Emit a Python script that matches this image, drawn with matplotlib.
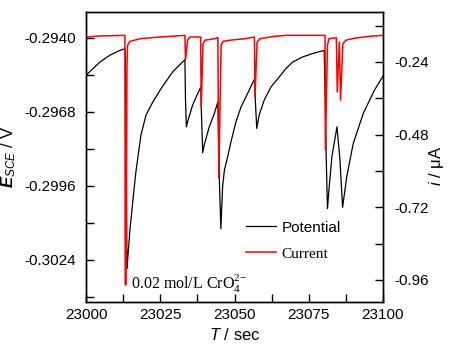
import matplotlib
matplotlib.use("Agg")
import matplotlib.pyplot as plt
from matplotlib.ticker import MultipleLocator, FormatStrFormatter

plt.rcParams['font.family'] = ['Liberation Sans', 'DejaVu Sans']
plt.rcParams['mathtext.fontset'] = 'custom'
plt.rcParams['mathtext.rm'] = 'Liberation Serif'
plt.rcParams['mathtext.it'] = 'Liberation Sans:italic'
plt.rcParams['mathtext.bf'] = 'Liberation Sans:bold:italic'

# Potential (V vs SCE)
t_pot = [23000.0, 23004.7, 23008.1, 23011.4, 23013.1, 23013.3, 23013.6, 23013.8, 23014.1,
         23014.8, 23015.8, 23016.8, 23017.5, 23018.5, 23020.2, 23022.5, 23025.3, 23029.2,
         23033.3, 23033.5, 23033.8, 23034.2, 23035.9, 23037.6, 23038.7, 23038.8, 23039.3,
         23039.8, 23041.5, 23043.2, 23044.4, 23044.9, 23045.4, 23046.0, 23046.6, 23047.7,
         23048.8, 23050.5, 23052.2, 23054.4, 23056.8, 23057.0, 23057.5, 23058.3, 23060.0,
         23062.3, 23065.1, 23067.3, 23069.6, 23072.9, 23076.3, 23080.2, 23080.6, 23080.9,
         23081.3, 23081.8, 23082.8, 23084.5, 23085.2, 23085.5, 23086.4, 23087.8, 23090.0,
         23093.4, 23097.1, 23100.0]
e_pot = [-0.29542, -0.29492, -0.29466, -0.29448, -0.29442, -0.29504, -0.29937, -0.30272, -0.30228,
         -0.30126, -0.30013, -0.29907, -0.29850, -0.29768, -0.29693, -0.29643, -0.29592, -0.29529,
         -0.29483, -0.29635, -0.29737, -0.29718, -0.29655, -0.29611, -0.29586, -0.29662, -0.29835,
         -0.29806, -0.29737, -0.29687, -0.29643, -0.29937, -0.30122, -0.29963, -0.29900, -0.29850,
         -0.29794, -0.29718, -0.29662, -0.29611, -0.29555, -0.29635, -0.29743, -0.29693, -0.29636,
         -0.29586, -0.29548, -0.29517, -0.29492, -0.29473, -0.29460, -0.29448, -0.29673, -0.29862,
         -0.30046, -0.29975, -0.29850, -0.29737, -0.29824, -0.29862, -0.30041, -0.29925, -0.29799,
         -0.29685, -0.29599, -0.29545]

# Current (uA)
t_cur = [23000.0, 23004.7, 23013.1, 23013.2, 23013.5, 23013.8, 23014.0, 23014.8, 23018.2, 23024.9,
         23033.3, 23033.5, 23034.2, 23035.0, 23038.6, 23038.8, 23039.4, 23040.1, 23043.4, 23044.4,
         23044.7, 23045.5, 23046.1, 23048.5, 23053.5, 23056.7, 23056.9, 23057.6, 23058.6, 23063.6,
         23067.3, 23080.5, 23080.6, 23081.3, 23081.8, 23084.3, 23084.6, 23085.3, 23085.7, 23086.5,
         23087.5, 23090.6, 23095.6, 23100.0]
i_cur = [-0.1575, -0.154, -0.152, -0.976, -0.976, -0.250, -0.185, -0.172, -0.163, -0.1575,
         -0.152, -0.233, -0.168, -0.1575, -0.1575, -0.389, -0.180, -0.168, -0.163, -0.159,
         -0.623, -0.185, -0.172, -0.168, -0.163, -0.1575, -0.356, -0.174, -0.163, -0.155,
         -0.152, -0.152, -0.530, -0.185, -0.163, -0.160, -0.339, -0.174, -0.366, -0.180,
         -0.168, -0.161, -0.155, -0.152]

fig = plt.figure(figsize=(4.49, 3.48), dpi=100)
ax = fig.add_axes([86/449, 46/348, 297/449, 290/348])
ax2 = ax.twinx()

lp, = ax.plot(t_pot, e_pot, color='black', lw=0.9)
lc, = ax2.plot(t_cur, i_cur, color='red', lw=1.1)

ax.set_xlim(23000, 23100)
ax.set_ylim(-0.30399, -0.29303)
ax2.set_ylim(-1.0327, -0.0749)

ax.xaxis.set_major_locator(MultipleLocator(25))
ax.xaxis.set_minor_locator(MultipleLocator(12.5))
ax.yaxis.set_major_locator(MultipleLocator(0.0028))
ax.yaxis.set_minor_locator(MultipleLocator(0.0014))
ax.yaxis.set_major_formatter(FormatStrFormatter('%.4f'))
ax2.yaxis.set_major_locator(MultipleLocator(0.24))
ax2.yaxis.set_minor_locator(MultipleLocator(0.12))
ax2.yaxis.set_major_formatter(FormatStrFormatter('%.2f'))

ax.tick_params(axis='x', which='both', direction='in', length=6, width=1, labelsize=11, pad=4, top=False)
ax.tick_params(axis='y', which='both', direction='in', length=6, width=1, labelsize=11, pad=7, right=False)
ax2.tick_params(axis='y', which='both', direction='in', length=6, width=1, labelsize=11, pad=8)
for a in (ax, ax2):
    for s in a.spines.values():
        s.set_linewidth(1.0)

ax.set_xlabel(r'$T$ / sec', fontsize=12, labelpad=4)
ax.set_ylabel(r'$\mathbf{E}_{SCE}$ / V', fontsize=12)
ax.yaxis.set_label_coords(-0.228, 0.5)
ax2.set_ylabel(r'$i$ / μA', fontsize=12)
ax2.yaxis.set_label_coords(1.148, 0.47)

ax.text(0.151, 0.048, r'0.02 mol/L CrO$_4^{2\!-}$', transform=ax.transAxes,
        fontsize=11.5, family='Liberation Serif', va='baseline', ha='left')

leg = ax.legend([lp, lc], ['Potential', 'Current'], frameon=False, loc='upper left',
                bbox_to_anchor=(0.54, 0.28), fontsize=11, handlelength=1.95,
                handletextpad=0.35, labelspacing=0.8, borderpad=0, borderaxespad=0)
leg.get_texts()[1].set_family('Liberation Serif')
leg.set_zorder(10)

fig.savefig('out.png', dpi=100)
